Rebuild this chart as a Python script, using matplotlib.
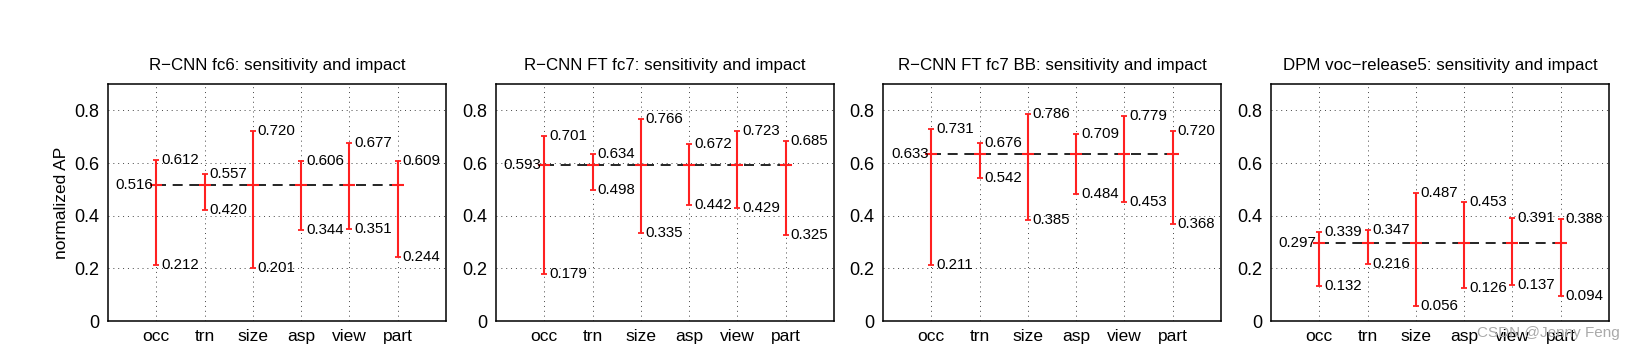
import matplotlib.pyplot as plt
import numpy as np

plt.rcParams['font.family'] = ['Liberation Sans', 'DejaVu Sans']

cats = ['occ', 'trn', 'size', 'asp', 'view', 'part']
titles = ['R\u2212CNN fc6: sensitivity and impact',
          'R\u2212CNN FT fc7: sensitivity and impact',
          'R\u2212CNN FT fc7 BB: sensitivity and impact',
          'DPM voc\u2212release5: sensitivity and impact']

overall = [0.516, 0.593, 0.633, 0.297]
ap_max = [
    [0.612, 0.557, 0.720, 0.606, 0.677, 0.609],
    [0.701, 0.634, 0.766, 0.672, 0.723, 0.685],
    [0.731, 0.676, 0.786, 0.709, 0.779, 0.720],
    [0.339, 0.347, 0.487, 0.453, 0.391, 0.388],
]
ap_min = [
    [0.212, 0.420, 0.201, 0.344, 0.351, 0.244],
    [0.179, 0.498, 0.335, 0.442, 0.429, 0.325],
    [0.211, 0.542, 0.385, 0.484, 0.453, 0.368],
    [0.132, 0.216, 0.056, 0.126, 0.137, 0.094],
]

fig = plt.figure(figsize=(16.36, 3.52), dpi=100)
lefts = [108, 496, 883, 1271]
W, H = 1636, 352
x = np.arange(1, len(cats) + 1)

for k in range(4):
    ax = fig.add_axes([lefts[k] / W, 1 - 321 / H, 338 / W, (321 - 84) / H])
    m = overall[k]
    hi = np.array(ap_max[k])
    lo = np.array(ap_min[k])
    ax.grid(True, linestyle=(0, (1, 4)), color='#444444', linewidth=0.7)
    ax.set_axisbelow(True)
    ax.plot([x[0], x[-1] + 0.1], [m, m], color='black', linestyle=(0, (6, 4)),
            linewidth=1.2, zorder=3)
    ax.errorbar(x, np.full(len(x), m), yerr=[m - lo, hi - m], fmt='none',
                ecolor='#ff2020', elinewidth=1.5, capsize=2.5, capthick=1.3,
                zorder=4)
    ax.plot(x, np.full(len(x), m), linestyle='none', marker='_', markersize=9,
            markeredgewidth=1.5, color='#ff2020', zorder=5)
    for i in range(len(x)):
        ax.text(x[i] + 0.1, hi[i], '%.3f' % hi[i], fontsize=10.8,
                va='center', ha='left', zorder=6)
        ax.text(x[i] + 0.1, lo[i], '%.3f' % lo[i], fontsize=10.8,
                va='center', ha='left', zorder=6)
    ax.text(x[0] - 0.06, m, '%.3f' % m, fontsize=10.8, va='center', ha='right',
            zorder=6)
    ax.set_xlim(0, 7)
    ax.set_ylim(0, 0.9)
    ax.set_xticks(x)
    ax.set_xticklabels(cats, fontsize=12.5)
    ax.set_yticks([0, 0.2, 0.4, 0.6, 0.8])
    ax.set_yticklabels(['0', '0.2', '0.4', '0.6', '0.8'], fontsize=13)
    ax.tick_params(length=0, pad=6)
    for s in ax.spines.values():
        s.set_linewidth(1.1)
    ax.set_title(titles[k], fontsize=12.2, pad=10)
    if k == 0:
        ax.set_ylabel('normalized AP', fontsize=12.5)

fig.text(1620 / W, 1 - 333 / H, 'CSDN @Jenny Feng', fontsize=11,
         color='#aaaaaa', ha='right', va='center')

plt.savefig('out.png', dpi=100)
